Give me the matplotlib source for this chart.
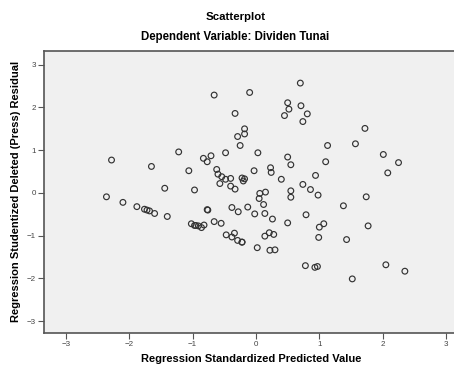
import matplotlib
matplotlib.use("Agg")
import matplotlib.pyplot as plt
import numpy as np

plt.rcParams['font.family'] = ['Liberation Sans', 'DejaVu Sans']

# regression standardized predicted value
pred = [-0.66, -0.10, -0.33, -0.18, -0.18, -0.29, -0.25, -2.28, -1.22, -1.65,
        -1.06, -0.83, -0.77, -0.71, -0.48, -0.62, -0.60, -0.54, -0.48, -0.40,
        -0.57, -0.40, -0.33, -0.22, -0.18, -0.20, -1.44, -0.97, -2.36, -2.10,
        -1.88, -1.76, -1.72, -1.68, -1.60, -1.40, -0.77, -0.76, -0.38, -0.13,
        -1.02, -0.97, -0.95, -0.91, -0.86, -0.82, -0.66, -0.55, -0.28, -0.47,
        -0.38, -0.34, -0.29, -0.22, -0.22, 0.70, 0.50, 0.52, 0.71, 0.81,
        0.45, 0.74, 1.72, 1.13, 1.57, 0.03, 0.50, 0.55, 1.10, 2.01,
        2.25, 2.08, 0.23, 0.24, -0.03, 0.40, 0.94, 0.74, 0.86, 0.98,
        0.55, 0.55, 0.06, 0.15, 0.05, 0.12, 1.38, 1.74, -0.02, 0.14,
        0.26, 0.50, 0.79, 1.07, 1.00, 1.77, 0.99, 1.43, 0.21, 0.28,
        0.14, 0.02, 0.22, 0.30, 0.78, 0.93, 0.97, 2.05, 2.35, 1.52]

# regression studentized deleted (press) residual
resid = [2.29, 2.35, 1.86, 1.50, 1.38, 1.32, 1.11, 0.77, 0.96, 0.62,
         0.52, 0.81, 0.73, 0.87, 0.94, 0.55, 0.44, 0.38, 0.32, 0.34,
         0.22, 0.16, 0.09, 0.35, 0.33, 0.28, 0.11, 0.07, -0.09, -0.22,
         -0.32, -0.38, -0.40, -0.42, -0.48, -0.55, -0.39, -0.40, -0.34, -0.33,
         -0.72, -0.76, -0.76, -0.77, -0.81, -0.75, -0.67, -0.71, -0.44, -0.98,
         -1.03, -0.94, -1.11, -1.15, -1.15, 2.57, 2.11, 1.96, 2.04, 1.85,
         1.81, 1.67, 1.51, 1.11, 1.15, 0.94, 0.84, 0.66, 0.73, 0.90,
         0.71, 0.47, 0.59, 0.48, 0.52, 0.32, 0.41, 0.20, 0.08, -0.05,
         0.05, -0.10, -0.01, 0.02, -0.13, -0.27, -0.30, -0.09, -0.49, -0.48,
         -0.61, -0.70, -0.51, -0.72, -0.80, -0.77, -1.04, -1.09, -0.93, -0.97,
         -1.01, -1.28, -1.34, -1.33, -1.70, -1.74, -1.72, -1.68, -1.83, -2.01]

ticks = [-3, -2, -1, 0, 1, 2, 3]

fig = plt.figure(figsize=(4.54, 3.67), dpi=100)
# right edge of the frame runs off the picture, as in the reference
ax = fig.add_axes([0.098, 0.0935, 0.911, 0.7675])
ax.set_facecolor('#f0f0f0')

ax.scatter(pred, resid, s=17, facecolors='none', edgecolors='#333333', linewidths=0.85)

ax.set_xlim(-3.338, 3.19)
ax.set_ylim(-3.268, 3.32)
ax.set_xticks(ticks)
ax.set_yticks(ticks)
ax.tick_params(direction='out', length=4, width=0.8, color='#555555',
               labelsize=5.8, labelcolor='#444444', pad=2)

for side in ['left', 'bottom', 'top', 'right']:
    ax.spines[side].set_color('#555555')
    ax.spines[side].set_linewidth(1.2)

ax.set_xlabel('Regression Standardized Predicted Value', fontsize=8,
              fontweight='bold', labelpad=4)
ax.set_ylabel('Regression Studentized Deleted (Press) Residual', fontsize=8,
              fontweight='bold', labelpad=4)

fig.text(0.518, 0.953, 'Scatterplot', ha='center', va='center', fontsize=8.2, fontweight='bold')
fig.text(0.518, 0.898, 'Dependent Variable: Dividen Tunai', ha='center', va='center',
         fontsize=8.3, fontweight='bold')

fig.savefig('out.png', dpi=100)
